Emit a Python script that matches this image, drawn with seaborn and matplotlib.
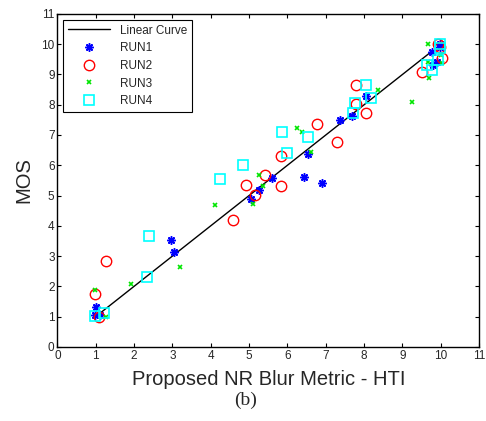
import matplotlib
matplotlib.use("Agg")
import matplotlib.pyplot as plt
import seaborn as sns

# ---- data ----
line_x = [1.1, 9.75]
line_y = [1.1, 9.75]

run1_x = [0.98, 1.00, 1.11, 2.96, 3.04, 5.04, 5.26, 5.61, 6.43, 6.89, 6.54, 7.38, 7.69, 8.06, 9.76, 9.80, 9.89, 9.97, 9.97]
run1_y = [1.06, 1.31, 1.06, 3.52, 3.15, 4.88, 5.17, 5.59, 5.62, 5.40, 6.38, 7.49, 7.63, 8.28, 9.73, 9.31, 9.42, 10.02, 9.91]

run2_x = [0.98, 1.09, 1.28, 4.57, 4.91, 5.16, 5.42, 5.83, 5.83, 6.76, 7.30, 7.78, 7.80, 8.04, 9.51, 9.93, 9.97, 10.02]
run2_y = [1.75, 0.98, 2.85, 4.19, 5.36, 5.02, 5.68, 5.32, 6.32, 7.35, 6.78, 8.02, 8.65, 7.73, 9.09, 10.02, 9.91, 9.55]

run3_x = [0.98, 1.28, 1.93, 3.21, 4.11, 5.11, 5.26, 5.35, 6.25, 6.39, 6.62, 8.37, 9.25, 9.67, 9.67, 9.70, 10.00, 10.02]
run3_y = [1.88, 1.00, 2.08, 2.65, 4.69, 4.72, 5.68, 5.31, 7.24, 7.11, 6.45, 8.48, 8.10, 10.00, 9.42, 8.87, 9.64, 9.38]

run4_x = [0.98, 1.22, 2.33, 2.38, 4.25, 4.84, 5.85, 5.98, 6.54, 7.71, 7.76, 8.04, 8.19, 9.65, 9.76, 9.93, 9.97, 9.97]
run4_y = [1.01, 1.11, 2.30, 3.65, 5.54, 6.00, 7.11, 6.39, 6.93, 7.71, 8.06, 8.65, 8.21, 9.31, 9.14, 9.47, 9.86, 10.02]

ticks = list(range(0, 12))

# ---- style ----
sns.set_style("ticks")
plt.rcParams["font.family"] = ["Liberation Sans", "DejaVu Sans"]
plt.rcParams["xtick.direction"] = "in"
plt.rcParams["ytick.direction"] = "in"

fig = plt.figure(figsize=(4.86, 4.21), dpi=100)
ax = fig.add_axes([0.118, 0.176, 0.868, 0.791])

sns.lineplot(x=line_x, y=line_y, color="black", linewidth=1.0,
             estimator=None, sort=False, label="Linear Curve", ax=ax)
sns.lineplot(x=run1_x, y=run1_y, linestyle="", marker=(8, 2, 0), markersize=6,
             mec="#0000ff", mfc="#0000ff", mew=1.1, color="#0000ff",
             estimator=None, sort=False, label="RUN1", ax=ax)
sns.lineplot(x=run2_x, y=run2_y, linestyle="", marker="o", markersize=7.5,
             mec="#ff0000", mfc="none", mew=1.0, color="#ff0000",
             estimator=None, sort=False, label="RUN2", ax=ax)
sns.lineplot(x=run3_x, y=run3_y, linestyle="", marker="x", markersize=3.5,
             mec="#00e600", mew=1.2, color="#00e600",
             estimator=None, sort=False, label="RUN3", ax=ax)
sns.lineplot(x=run4_x, y=run4_y, linestyle="", marker="s", markersize=7,
             mec="#00ffff", mfc="none", mew=1.2, color="#00ffff",
             estimator=None, sort=False, label="RUN4", ax=ax)

ax.set_xlim(0, 11)
ax.set_ylim(0, 11)
ax.set_xticks(ticks)
ax.set_yticks(ticks)
ax.tick_params(which="both", top=True, right=True, length=3, width=0.8,
               labelsize=8.5, pad=2, color="black")
for s in ax.spines.values():
    s.set_linewidth(1.0)
    s.set_color("black")

ax.set_xlabel("Proposed NR Blur Metric - HTI", fontsize=14.5, labelpad=6)
ax.set_ylabel("MOS", fontsize=14.5, labelpad=6)

leg = ax.legend(loc="upper left", fontsize=8.5, frameon=True, fancybox=False,
                edgecolor="black", framealpha=1, borderaxespad=0.5,
                handlelength=3.6, labelspacing=0.48, borderpad=0.4)
leg.get_frame().set_linewidth(0.8)

fig.text(0.505, 0.048, "(b)", ha="center", va="center", fontsize=14,
         family=["Liberation Serif", "DejaVu Serif"])

fig.savefig("out.png", dpi=100)
